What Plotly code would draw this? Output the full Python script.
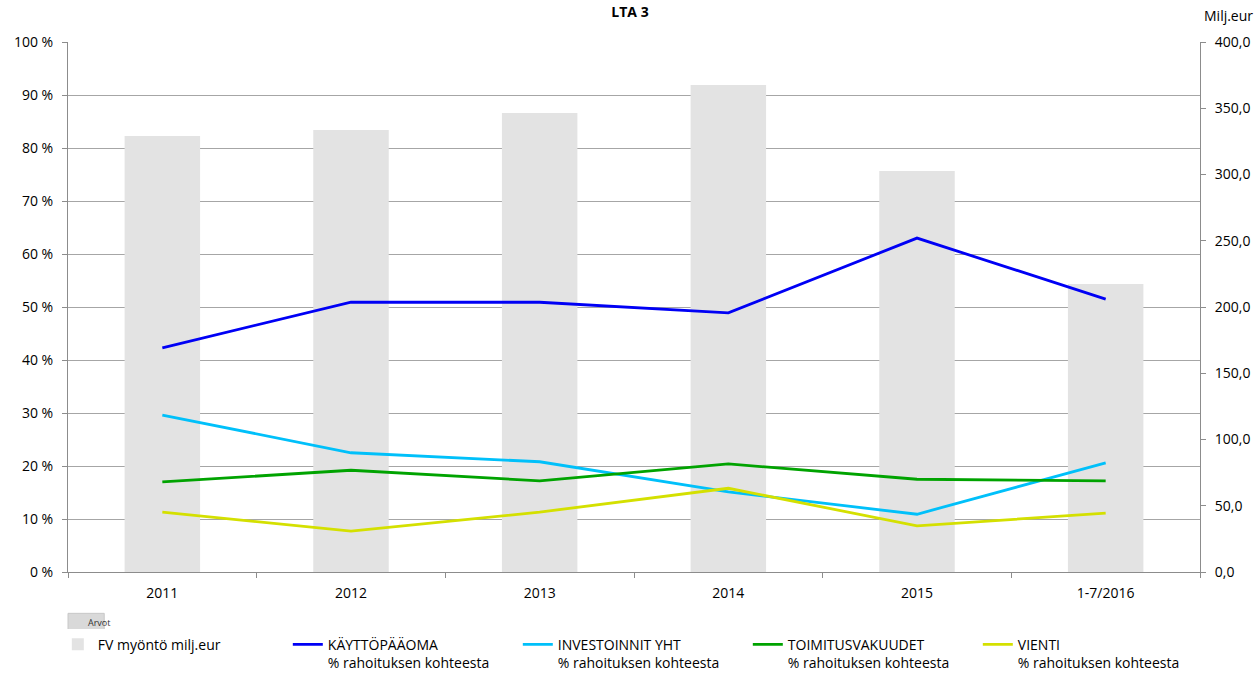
import plotly.graph_objects as go

categories = ["2011", "2012", "2013", "2014", "2015", "1-7/2016"]
fv_myonto = [329.1, 333.6, 346.4, 367.5, 302.6, 217.4]
kayttopaaoma = [42.3, 50.9, 50.9, 48.9, 63.0, 51.5]
investoinnit = [29.6, 22.5, 20.8, 15.1, 10.9, 20.6]
toimitusvakuudet = [17.0, 19.2, 17.2, 20.4, 17.5, 17.2]
vienti = [11.3, 7.7, 11.3, 15.8, 8.7, 11.1]

left_ticks = list(range(0, 101, 10))
left_labels = [f"{v} %" for v in left_ticks]
right_ticks = list(range(0, 401, 50))
right_labels = [f"{v},0" for v in right_ticks]

font = "Open Sans, Liberation Sans, sans-serif"
fig = go.Figure()
fig.add_trace(go.Bar(x=categories, y=fv_myonto, name="FV myöntö milj.eur",
                     marker=dict(color="#e3e3e3", line=dict(width=0)), yaxis="y", width=0.4))
series = [
    ("KÄYTTÖPÄÄOMA<br>% rahoituksen kohteesta", kayttopaaoma, "#0000f5"),
    ("INVESTOINNIT YHT<br>% rahoituksen kohteesta", investoinnit, "#00c0fa"),
    ("TOIMITUSVAKUUDET<br>% rahoituksen kohteesta", toimitusvakuudet, "#00a300"),
    ("VIENTI<br>% rahoituksen kohteesta", vienti, "#d4e000"),
]
for name, vals, col in series:
    fig.add_trace(go.Scatter(x=categories, y=vals, name=name, mode="lines",
                             line=dict(color=col, width=2.8), yaxis="y2"))

axis_grey = "#8c8c8c"
fig.update_layout(
    width=1260, height=673,
    margin=dict(l=68, r=60, t=42, b=101, autoexpand=False),
    paper_bgcolor="white", plot_bgcolor="white",
    font=dict(family=font, size=14, color="#000"),
    title=dict(text="<b>LTA 3</b>", x=0.5, xanchor="center", y=0.982, yanchor="middle",
               font=dict(size=14)),
    showlegend=True,
    legend=dict(orientation="h", x=-0.009, xanchor="left", y=-0.107, yanchor="top",
                entrywidth=185, entrywidthmode="pixels", valign="top",
                font=dict(size=14), traceorder="normal", itemwidth=30),
    xaxis=dict(showline=True, linecolor=axis_grey, ticks="outside", tickson="boundaries",
               tickcolor=axis_grey, ticklen=5, showgrid=False, ticklabelstandoff=8),
    yaxis=dict(range=[0, 400], tickvals=right_ticks, ticktext=right_labels, side="right",
               showline=True, linecolor=axis_grey, ticks="outside", tickcolor=axis_grey,
               ticklen=5, showgrid=False, zeroline=False, ticklabelstandoff=6,
               minor=dict(dtick=40, tick0=0, showgrid=True, gridcolor="#a6a6a6",
                          gridwidth=1, ticks="")),
    yaxis2=dict(range=[0, 100], tickvals=left_ticks, ticktext=left_labels, overlaying="y",
                side="left", showline=True, linecolor=axis_grey, ticks="outside",
                tickcolor=axis_grey, ticklen=5, showgrid=False, zeroline=False,
                ticklabelstandoff=6),
    bargap=0.6,
)
fig.add_shape(type="rect", xref="paper", yref="paper", x0=0.0, x1=0.032,
              y0=-0.078, y1=-0.113, fillcolor="#d9d9d9", line=dict(color="#c8c8c8", width=1))
fig.add_annotation(text="Arvot", xref="paper", yref="paper", x=0.016, y=-0.0955,
                   yanchor="middle", showarrow=False, font=dict(size=9, color="#333"))
fig.add_annotation(text="Milj.eur", xref="paper", yref="paper", x=1.0, xanchor="left", xshift=2,
                   y=1.0, yanchor="bottom", yshift=15, showarrow=False, font=dict(size=14))
fig.write_html("out.html", config={"displayModeBar": False},
               post_script="document.body.style.margin='0px';")
